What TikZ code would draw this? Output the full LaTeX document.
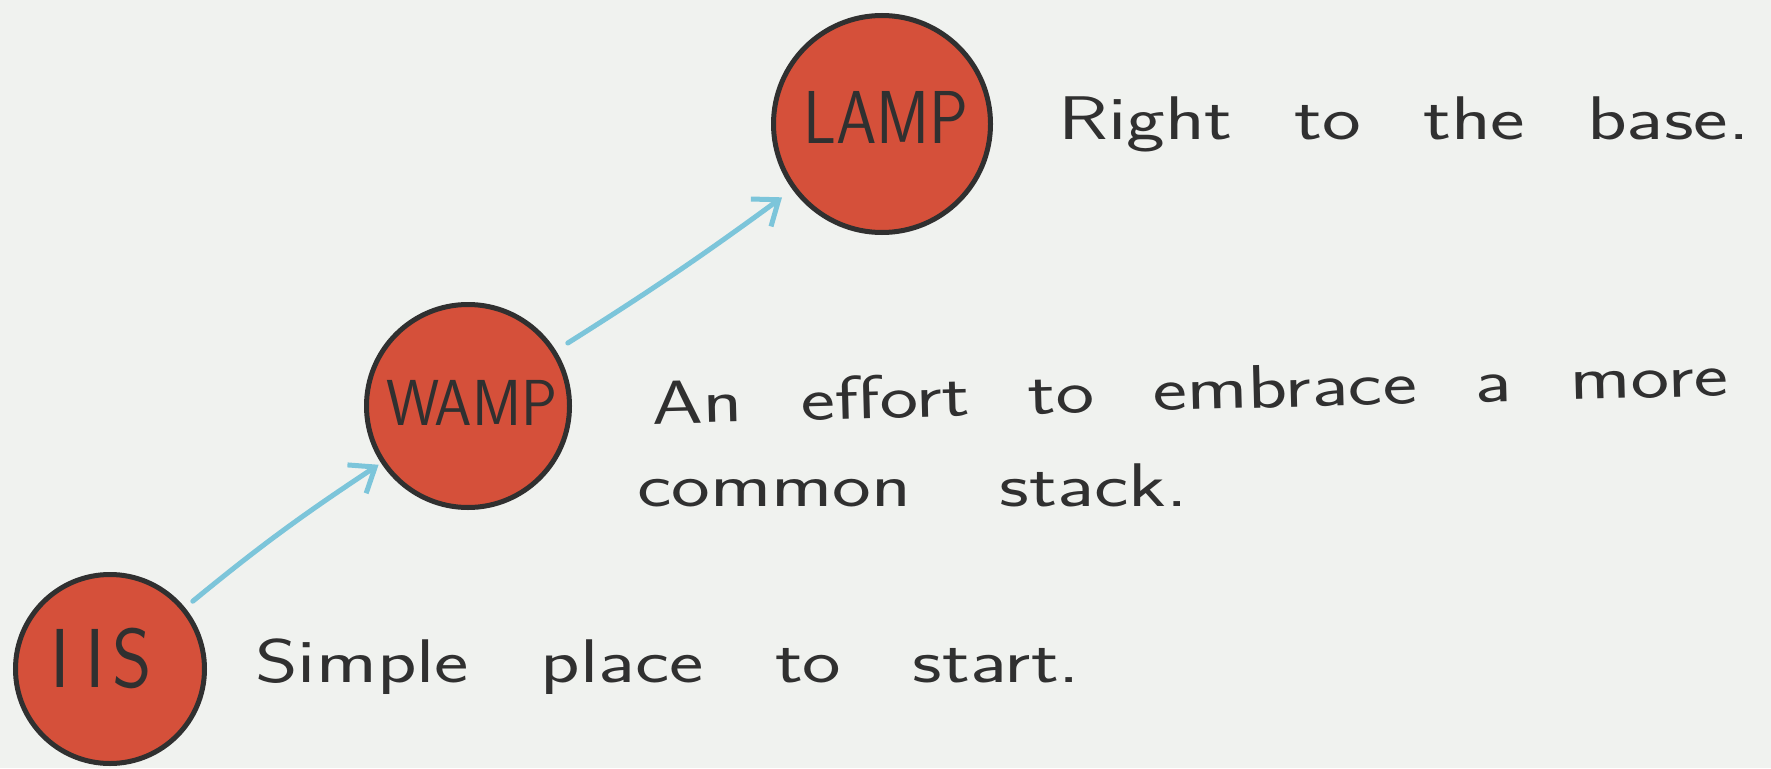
\documentclass[tikz,border=0pt]{standalone}
\usepackage{fontspec}
\usetikzlibrary{arrows.meta}
\definecolor{bg}{HTML}{F0F2EF}
\definecolor{dotred}{HTML}{D5503A}
\definecolor{ink}{HTML}{303030}
\definecolor{arrowblue}{HTML}{7CC5DA}
\begin{document}
\begin{tikzpicture}[x=1pt,y=-1pt,
  dot/.style={circle, draw=ink, line width=5pt, fill=dotred, inner sep=0pt},
  dotlbl/.style={inner sep=0pt, text=ink, font=\sffamily\fontsize{#1}{#1}\selectfont},
  note/.style={anchor=base west, inner sep=0pt, text=ink, font=\sffamily\fontsize{56}{60}\selectfont},
  arr/.style={draw=arrowblue, line width=5pt, line cap=round,
    -{Straight Barb[length=22pt,width=34pt]}}]
\fill[bg] (0,0) rectangle (1771,768);
\useasboundingbox (0,0) rectangle (1771,768);
% circles
\node[dot, minimum size=217pt] (lamp) at (882,124) {};
\node[dot, minimum size=203pt] (wamp) at (468,406) {};
\node[dot, minimum size=189pt] (iis) at (110,669) {};
% circle labels
\node[dotlbl=60] (lampt) at ([shift={(4,-7)}]lamp.center) {\scalebox{1.08}[1.25]{LAMP}};
\node[dotlbl=50] (wampt) at ([shift={(4,-3)}]wamp.center) {\scalebox{1.2}[1.3]{WAMP}};
\node[dotlbl=62] (iist) at ([shift={(-9,-11)}]iis.center) {\scalebox{1.22}[1.35]{I\kern13pt I\kern6pt S}};
% notes
\node[note] (t1) at (1058,139) {\scalebox{1.47}[1.1]{\spaceskip=42pt\relax Right to the base.}};
\node[note, rotate=1.5] (t2) at (652,424) {\scalebox{1.46}[1.1]{\spaceskip=40pt\relax An effort to embrace a more}};
\node[note] (t3) at (637,506) {\scalebox{1.47}[1.1]{\spaceskip=60pt\relax common stack.}};
\node[note] (t4) at (255,682) {\scalebox{1.46}[1.1]{\spaceskip=49pt\relax Simple place to start.}};
% arrows
\draw[arr, shorten <=10pt, shorten >=3pt] (iis) to[bend left=3] (wamp);
\draw[arr, shorten <=14pt, shorten >=13pt] (wamp) to[bend right=2] (lamp);
\end{tikzpicture}
\end{document}
